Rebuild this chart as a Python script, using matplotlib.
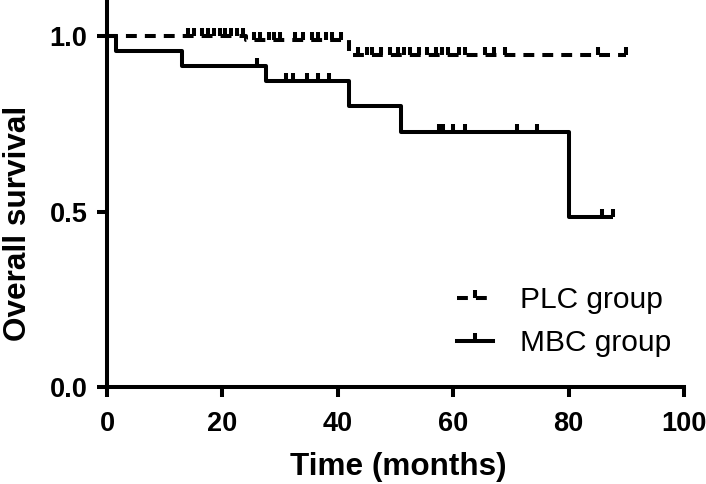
import numpy as np
import matplotlib
matplotlib.use('Agg')
import matplotlib.pyplot as plt
from matplotlib.lines import Line2D

plt.rcParams['font.family'] = ['Liberation Sans', 'DejaVu Sans']

# Kaplan-Meier steps
plc_times = [0, 24, 42]
plc_surv = [1.0, 0.988, 0.947]
plc_end = 90
plc_censor = [14, 15, 16.5, 17.5, 18.5, 19.5, 20.5, 21.5, 22.5, 23.5,
              25.5, 26.5, 28, 29, 30, 32.5, 34, 35.5, 36.5, 38, 39, 40.5,
              43.5, 45, 46, 47.5, 49, 50.5, 51.5, 52.5, 54, 55.5, 57, 58,
              59, 61, 62, 65.5, 67, 69, 85, 90]

mbc_times = [0, 1.5, 13, 27.5, 42, 51, 80]
mbc_surv = [1.0, 0.957, 0.915, 0.872, 0.80, 0.726, 0.485]
mbc_end = 87.6
mbc_censor = [26, 31, 32.3, 34.6, 36.5, 38.5, 57.5, 58.3, 60, 62, 71, 74.5,
              85.7, 87.6]

lw = 2.9
dash = (0, (2.7, 2.0))
msize = 5.5


def km_line(ax, times, surv, end, censor, ls):
    t = list(times) + [end]
    s = list(surv) + [surv[-1]]
    ax.step(t, s, where='post', color='black', lw=lw, linestyle=ls,
            solid_capstyle='butt', dash_capstyle='butt')
    idx = np.searchsorted(times, censor, side='right') - 1
    cy = np.array(surv)[idx]
    ax.plot(censor, cy, linestyle='none', marker=2, markersize=msize,
            markeredgewidth=lw, color='black')


fig = plt.figure(figsize=(7.06, 4.84), dpi=100)
ax = fig.add_axes([0.1516, 0.2004, 0.8174, 0.7996])

km_line(ax, plc_times, plc_surv, plc_end, plc_censor, dash)
km_line(ax, mbc_times, mbc_surv, mbc_end, mbc_censor, '-')

ax.set_xlim(0, 100)
ax.set_ylim(0, 1.1026)
ax.set_xticks([0, 20, 40, 60, 80, 100])
ax.set_yticks([0.0, 0.5, 1.0])
ax.set_yticklabels(['0.0', '0.5', '1.0'])
for sp in ['top', 'right']:
    ax.spines[sp].set_visible(False)
for sp in ['left', 'bottom']:
    ax.spines[sp].set_linewidth(lw)
ax.tick_params(width=lw, length=7, labelsize=19.5, pad=7)
ax.tick_params(axis='x', pad=10)
for lab in ax.get_xticklabels() + ax.get_yticklabels():
    lab.set_fontweight('bold')
ax.set_xlabel('Time (months)', fontsize=22.7, fontweight='bold')
ax.set_ylabel('Overall survival', fontsize=22.7, fontweight='bold')
ax.xaxis.set_label_coords(0.504, -0.168)
ax.yaxis.set_label_coords(-0.128, 0.424)

handles = [
    Line2D([], [], color='black', lw=lw, linestyle=dash, marker=2,
           markersize=msize, markeredgewidth=lw),
    Line2D([], [], color='black', lw=lw, linestyle='-', marker=2,
           markersize=msize, markeredgewidth=lw),
]
ax.legend(handles, ['PLC group', 'MBC group'], loc='upper left',
          bbox_to_anchor=(0.607, 0.26), frameon=False, fontsize=21.5,
          numpoints=1, handlelength=1.2, handletextpad=0.9,
          labelspacing=0.5, borderpad=0, borderaxespad=0)

fig.savefig('out.png', dpi=100)
